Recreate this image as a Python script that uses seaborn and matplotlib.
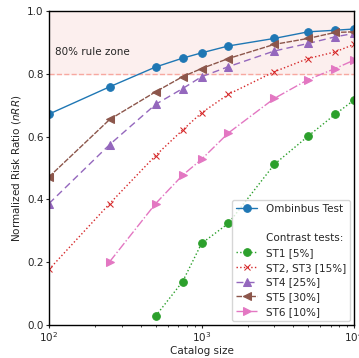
import numpy as np
import pandas as pd
import matplotlib.pyplot as plt
import seaborn as sns
from matplotlib.lines import Line2D

sns.set_style('ticks')
plt.rcParams['font.family'] = ['DejaVu Sans']
plt.rcParams['font.size'] = 7.5

# catalog sizes
sizes = [100, 250, 500, 750, 1000, 1500, 3000, 5000, 7500, 10000]

omnibus = [0.672, 0.759, 0.822, 0.850, 0.867, 0.889, 0.913, 0.934, 0.939, 0.943]
st1 = [0.029, 0.138, 0.260, 0.324, 0.512, 0.602, 0.671, 0.717]          # from 500
st2 = [0.177, 0.387, 0.540, 0.621, 0.676, 0.735, 0.807, 0.849, 0.870, 0.894]
st4 = [0.387, 0.575, 0.703, 0.753, 0.791, 0.823, 0.873, 0.897, 0.918, 0.929]
st5 = [0.472, 0.655, 0.743, 0.791, 0.817, 0.849, 0.894, 0.913, 0.932, 0.934]
st6 = [0.202, 0.387, 0.477, 0.528, 0.612, 0.722, 0.782, 0.817, 0.844]   # from 250

pal = sns.color_palette('tab10')

fig = plt.figure(figsize=(3.59, 3.58), dpi=100)
ax = fig.add_axes([0.1365, 0.092, 0.85, 0.877])

ax.axhspan(0.8, 1.0, color='#fcefee', zorder=0)
ax.axhline(0.8, color='#f7a8a0', ls='--', lw=1, zorder=1)
ax.text(109, 0.869, '80% rule zone', va='center', fontsize=7.5)

sns.lineplot(x=sizes, y=omnibus, ax=ax, color=pal[0], marker='o', markersize=5.5,
             markeredgecolor=pal[0], lw=1, label='Ombinbus Test')
sns.lineplot(x=sizes[2:], y=st1, ax=ax, color=pal[2], marker='o', markersize=5.5,
             markeredgecolor=pal[2], lw=1, linestyle=':', label='ST1 [5%]')
sns.lineplot(x=sizes, y=st2, ax=ax, color=pal[3], marker='x', markersize=5,
             markeredgecolor=pal[3], lw=1, linestyle=':', label='ST2, ST3 [15%]')
sns.lineplot(x=sizes, y=st4, ax=ax, color=pal[4], marker='^', markersize=5.5,
             markeredgecolor=pal[4], lw=1, linestyle=(0, (5, 3)), label='ST4 [25%]')
sns.lineplot(x=sizes, y=st5, ax=ax, color=pal[5], marker='<', markersize=5.5,
             markeredgecolor=pal[5], lw=1, linestyle=(0, (4, 1)), label='ST5 [30%]')
sns.lineplot(x=sizes[1:], y=st6, ax=ax, color=pal[6], marker='>', markersize=5.5,
             markeredgecolor=pal[6], lw=1, linestyle='-.', label='ST6 [10%]')

ax.set_xscale('log')
ax.set_xlim(100, 10000)
ax.set_ylim(0, 1.0)
ax.set_yticks([0, 0.2, 0.4, 0.6, 0.8, 1.0])
ax.set_xlabel('Catalog size', labelpad=1)
ax.set_ylabel('Normalized Risk Ratio ($nRR$)', labelpad=3)
ax.tick_params(which='major', length=2.5, pad=1.5)
ax.tick_params(which='minor', length=1.5)
for s in ax.spines.values():
    s.set_color('black')
    s.set_linewidth(1)

h, l = ax.get_legend_handles_labels()
blank = Line2D([], [], linestyle='none', marker='none')
handles = [h[0], blank, blank] + h[1:]
labels = [l[0], ' ', 'Contrast tests:'] + l[1:]
ax.legend(handles, labels, loc='lower right', fontsize=7.5, handlelength=2,
          labelspacing=0.45, frameon=True, borderaxespad=0.4)

plt.savefig('out.png', dpi=100)
